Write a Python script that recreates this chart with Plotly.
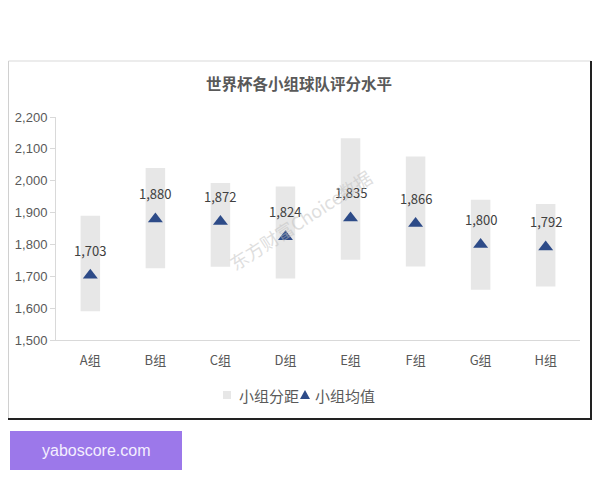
import plotly.graph_objects as go

groups = ["A组", "B组", "C组", "D组", "E组", "F组", "G组", "H组"]
range_low = [1590, 1725, 1730, 1693, 1752, 1731, 1658, 1668]
range_high = [1890, 2040, 1993, 1982, 2133, 2076, 1940, 1927]
mean_values = [1703, 1880, 1872, 1824, 1883, 1866, 1800, 1792]
mean_labels = ["1,703", "1,880", "1,872", "1,824", "1,835", "1,866", "1,800", "1,792"]
y_ticks = [1500, 1600, 1700, 1800, 1900, 2000, 2100, 2200]

FONT = "Noto Sans CJK SC, Liberation Sans, sans-serif"
GREY_TXT = "#595959"
BAR_COLOR = "#e7e7e7"
TRI_COLOR = "#2d4b88"

# page offset (browser body margin)
OFF = 8
FIG_W, FIG_H = 600 - OFF, 480 - 2 * OFF
# plot area in page px: x 56..580, y 117..340
PL, PR, PT, PB = 56, 580, 117, 340
W, H = PR - PL, PB - PT


def px(xp):
    return (xp - PL) / W


def py(yp):
    return (PB - yp) / H


fig = go.Figure()
fig.add_trace(go.Bar(
    x=groups,
    y=[h - l for h, l in zip(range_high, range_low)],
    base=range_low,
    width=0.3,
    marker=dict(color=BAR_COLOR, line=dict(width=0)),
    name="小组分距",
    hoverinfo="skip",
))
fig.add_trace(go.Scatter(
    x=groups,
    y=mean_values,
    mode="markers",
    marker=dict(symbol="triangle-up", size=13, color=TRI_COLOR),
    name="小组均值",
))
for g, v, t in zip(groups, mean_values, mean_labels):
    fig.add_annotation(x=g, y=v, text=t, showarrow=False, yshift=25,
                       xanchor="center", yanchor="middle",
                       font=dict(family=FONT, size=13, color="#404040"))

# watermark
fig.add_annotation(xref="paper", yref="paper", x=px(300), y=py(220),
                   xanchor="center", yanchor="middle",
                   text="东方财富Choice数据", showarrow=False, textangle=-33,
                   font=dict(family=FONT, size=18, color="rgba(190,190,190,0.5)"))

# title
fig.add_annotation(xref="paper", yref="paper", x=px(299), y=py(83),
                   xanchor="center", yanchor="middle",
                   text="<b>世界杯各小组球队评分水平</b>", showarrow=False,
                   font=dict(family=FONT, size=15.5, color=GREY_TXT))

# frame
x0, x1, y0, y1 = px(8.5), px(591), py(61), py(419)
fig.add_shape(type="line", xref="paper", yref="paper", x0=x0, x1=x1, y0=y0, y1=y0,
              line=dict(color="#d9d9d9", width=1))
fig.add_shape(type="line", xref="paper", yref="paper", x0=x0, x1=x0, y0=y0, y1=y1,
              line=dict(color="#d0d0d0", width=1))
fig.add_shape(type="line", xref="paper", yref="paper", x0=x1, x1=x1, y0=y0, y1=y1,
              line=dict(color="#222222", width=2))
fig.add_shape(type="line", xref="paper", yref="paper", x0=px(8), x1=px(592), y0=y1, y1=y1,
              line=dict(color="#222222", width=2))

# legend (drawn compactly like the original)
fig.add_shape(type="rect", xref="paper", yref="paper", x0=px(223), x1=px(231),
              y0=py(399), y1=py(391), fillcolor=BAR_COLOR, line=dict(width=0))
fig.add_annotation(xref="paper", yref="paper", x=px(237), y=py(395.5),
                   xanchor="left", yanchor="middle", text="小组分距", showarrow=False,
                   font=dict(family=FONT, size=15, color=GREY_TXT))
fig.add_shape(type="path", xref="paper", yref="paper",
              path=f"M {px(300)} {py(399)} L {px(310)} {py(399)} L {px(305)} {py(390)} Z",
              fillcolor=TRI_COLOR, line=dict(width=0))
fig.add_annotation(xref="paper", yref="paper", x=px(313), y=py(395.5),
                   xanchor="left", yanchor="middle", text="小组均值", showarrow=False,
                   font=dict(family=FONT, size=15, color=GREY_TXT))

# purple badge
fig.add_shape(type="rect", xref="paper", yref="paper", x0=px(10), x1=px(182),
              y0=py(470), y1=py(431), fillcolor="#9c78ea", line=dict(width=0), layer="above")
fig.add_annotation(xref="paper", yref="paper", x=px(96), y=py(450.5),
                   xanchor="center", yanchor="middle",
                   text="yaboscore.com", showarrow=False,
                   font=dict(family="Liberation Sans, Arial, sans-serif", size=16, color="#f4efff"))

fig.update_layout(
    width=FIG_W, height=FIG_H,
    margin=dict(l=PL - OFF, r=FIG_W - (PR - OFF), t=PT - OFF, b=FIG_H - (PB - OFF), pad=0,
                autoexpand=False),
    paper_bgcolor="white", plot_bgcolor="white",
    showlegend=False,
    font=dict(family=FONT, color=GREY_TXT),
    bargap=0.7,
)
fig.update_xaxes(showline=True, linecolor="#d9d9d9", linewidth=1, ticks="",
                 tickfont=dict(family=FONT, size=13, color=GREY_TXT), showgrid=False,
                 ticklabelstandoff=8)
fig.update_yaxes(range=[1500, 2200], tickvals=y_ticks,
                 ticktext=[f"{v:,}" for v in y_ticks],
                 showline=True, linecolor="#d9d9d9", linewidth=1,
                 ticks="outside", ticklen=5, tickcolor="#d9d9d9",
                 tickfont=dict(family="Liberation Sans, sans-serif", size=13, color=GREY_TXT),
                 showgrid=False, zeroline=False)

fig.write_html("out.html")
